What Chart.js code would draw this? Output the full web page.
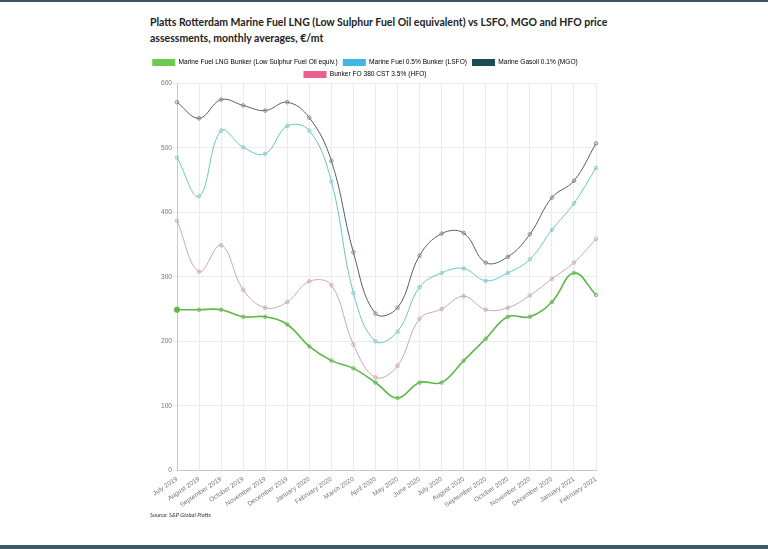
<!DOCTYPE html>
<html>
<head>
<meta charset="utf-8">
<script src="https://cdn.jsdelivr.net/npm/chart.js@4.4.0/dist/chart.umd.min.js"></script>
<style>
  html, body { margin:0; padding:0; background:#fff; }
  body { width:768px; height:549px; position:relative; overflow:hidden; font-family:Lato, "Open Sans", sans-serif; }
  #topbar { position:absolute; left:0; top:0; width:768px; height:2px; background:#3d5566; }
  #botbar { position:absolute; left:0; top:545px; width:768px; height:4px; background:#3d5a66; }
  #title { position:absolute; left:150px; top:14px; white-space:nowrap; font-size:10.5px; font-weight:700; line-height:16px; color:#222; }
  #source { position:absolute; left:150px; top:511px; font-size:5.8px; font-style:italic; color:#333; }
  #wrap { position:absolute; left:134px; top:54px; width:480px; height:460px; }
</style>
</head>
<body>
<div id="topbar"></div>
<div id="title">Platts Rotterdam Marine Fuel LNG (Low Sulphur Fuel Oil equivalent) vs LSFO, MGO and HFO price<br>assessments, monthly averages, €/mt</div>
<div id="wrap"><canvas id="c"></canvas></div>
<div id="source">Source: S&amp;P Global Platts</div>
<div id="botbar"></div>
<script>
const months = ["July 2019","August 2019","September 2019","October 2019","November 2019","December 2019","January 2020","February 2020","March 2020","April 2020","May 2020","June 2020","July 2020","August 2020","September 2020","October 2020","November 2020","December 2020","January 2021","February 2021"];
const lngValues = [249,249,249,238,238,226,192,170,158,136,112,136,136,170,204,238,238,261,306,272];
const lsfoValues = [485,425,527,501,491,534,527,448,275,200,215,284,306,313,294,306,327,373,414,469];
const mgoValues = [571,546,575,566,558,571,547,480,338,243,252,333,367,368,322,331,366,423,449,507];
const hfoValues = [387,308,349,280,252,261,293,287,195,144,162,235,250,270,249,252,271,297,322,359];
const seriesNames = ["Marine Fuel LNG Bunker (Low Sulphur Fuel Oil equiv.)","Marine Fuel 0.5% Bunker (LSFO)","Marine Gasoil 0.1% (MGO)","Bunker FO 380 CST 3.5% (HFO)"];
const yTicks = [0,100,200,300,400,500,600];

const legendColors = ["#6ccb4c","#3fb6e3","#1c4a57","#ec5f8b"];
const lineColors = ["#5cb848","#6cc6c6","#5a5f63","#cfa6b6"];
const pointColors = ["#78c466","#90d2d2","#8d9296","#d4b0be"];
const lineWidths = [1.6,1,1,1];
const values = [lngValues, lsfoValues, mgoValues, hfoValues];

const datasets = values.map((v,i)=>({
  label: seriesNames[i],
  data: v,
  borderColor: lineColors[i],
  backgroundColor: legendColors[i],
  borderWidth: lineWidths[i],
  tension: 0.4,
  fill: false,
  pointRadius: (ctx)=> (i===0 && ctx.dataIndex===0) ? 2.8 : 1.8,
  pointBackgroundColor: (ctx)=> (i===0 && ctx.dataIndex===0) ? lineColors[0] : 'rgba(0,0,0,0.06)',
  pointBorderColor: pointColors[i],
  pointBorderWidth: 1
}));

const legendTrim = {
  id: 'legendTrim',
  beforeLayout(chart) {
    const lg = chart.legend;
    if (lg && !lg._trimmed) {
      const orig = lg.fit;
      lg.fit = function() { orig.call(this); this.height -= 4.5; };
      lg._trimmed = true;
    }
  }
};

const tickFont = { family: 'Liberation Sans, Arial, sans-serif', size: 6.6 };

new Chart(document.getElementById('c'), {
  type: 'line',
  data: { labels: months, datasets },
  plugins: [legendTrim],
  options: {
    responsive: true,
    maintainAspectRatio: false,
    animation: false,
    layout: { padding: { left: 0, right: 18, top: 0, bottom: 0 } },
    plugins: {
      legend: {
        position: 'top',
        labels: {
          boxWidth: 23, boxHeight: 7, padding: 5,
          color: '#666',
          font: { family: 'Liberation Sans, Arial, sans-serif', size: 6.6 },
          generateLabels: (chart)=> chart.data.datasets.map((d,i)=>({
            text: d.label, fillStyle: legendColors[i], strokeStyle: legendColors[i], lineWidth: 0, datasetIndex: i, hidden: false
          }))
        }
      },
      tooltip: { enabled: false }
    },
    scales: {
      x: {
        grid: { color: '#ebebeb', drawTicks: false },
        border: { color: '#c8c8c8' },
        ticks: { color: '#777', font: tickFont, minRotation: 34, maxRotation: 34, autoSkip: false, padding: 5 }
      },
      y: {
        min: 0, max: 600,
        afterBuildTicks: (axis)=>{ axis.ticks = yTicks.map(v=>({value:v})); },
        afterFit: (axis)=>{ axis.width = 43; },
        grid: { color: '#ebebeb', tickLength: 4 },
        border: { color: '#c8c8c8' },
        ticks: { color: '#777', font: tickFont, padding: 1 }
      }
    }
  }
});
</script>
</body>
</html>
